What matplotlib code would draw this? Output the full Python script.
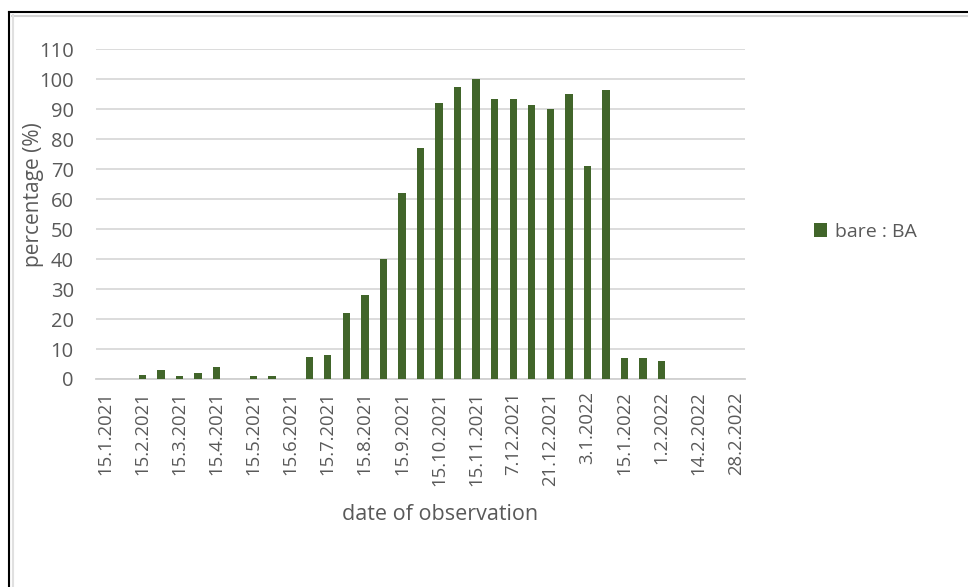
import matplotlib
matplotlib.use("Agg")
import matplotlib.pyplot as plt
from matplotlib.lines import Line2D

# observation dates (every second slot carries a label)
dates = [
    "15.1.2021", "", "15.2.2021", "", "15.3.2021", "", "15.4.2021", "",
    "15.5.2021", "", "15.6.2021", "", "15.7.2021", "", "15.8.2021", "",
    "15.9.2021", "", "15.10.2021", "", "15.11.2021", "", "7.12.2021", "",
    "21.12.2021", "", "3.1.2022", "", "15.1.2022", "", "1.2.2022", "",
    "14.2.2022", "", "28.2.2022",
]
# share of bare area per observation, % (None = no observation)
bare_pct = [
    None, None, 1.5, 3, 1, 2, 4, None,
    1, 1, None, 7.5, 8, 22, 28, 40,
    62, 77, 92, 97.5, 100, 93.5, 93.5, 91.5,
    90, 95, 71, 96.5, 7, 7, 6, None,
    None, None, None,
]

GREEN = "#41652a"
TEXT = "#595959"

plt.rcParams["font.family"] = ["Open Sans", "DejaVu Sans"]

W, H = 968, 587
fig = plt.figure(figsize=(W / 100, H / 100), dpi=100)
ax = fig.add_axes([96 / W, 1 - 379 / H, (745 - 96) / W, (379 - 49.3) / H])

xs = [i for i, v in enumerate(bare_pct) if v is not None]
vals = [v for v in bare_pct if v is not None]
ax.bar(xs, vals, width=0.4, color=GREEN, zorder=3, label="bare : BA")

ax.set_xlim(-0.5, len(dates) - 0.5)
ax.set_ylim(0, 110)
ax.set_yticks(range(0, 111, 10))
ax.tick_params(axis="y", length=0, pad=16, labelsize=14.5, labelcolor=TEXT)

label_idx = [i for i, d in enumerate(dates) if d]
ax.set_xticks(label_idx)
ax.set_xticklabels([dates[i] for i in label_idx], rotation=90)
ax.tick_params(axis="x", length=0, pad=9, labelsize=13.3, labelcolor=TEXT)

ax.grid(axis="y", color="#d9d9d9", linewidth=1.3, zorder=0)
for s in ["top", "right", "left"]:
    ax.spines[s].set_visible(False)
ax.spines["bottom"].set_color("#d0d0d0")
ax.spines["bottom"].set_linewidth(1.3)

fig.text(33 / W, 1 - 195 / H, "percentage (%)", rotation=90, ha="center",
         va="center", fontsize=15, color=TEXT)
fig.text(440 / W, 1 - 515 / H, "date of observation", ha="center",
         va="center", fontsize=15.5, color=TEXT)

fig.legend(loc="center left", bbox_to_anchor=(796 / W, 1 - 232 / H),
           frameon=False, fontsize=14, labelcolor=TEXT,
           handlelength=0.7, handleheight=0.7, handletextpad=0.4)

# sheet frame around the chart
fig.add_artist(Line2D([12 / W, 1], [1 - 15.5 / H] * 2, color="#d4d4d4", lw=1.5))
fig.add_artist(Line2D([13 / W] * 2, [0, 1 - 15 / H], color="#e0e0e0", lw=1.5))
fig.add_artist(Line2D([9 / W, 1], [1 - 12 / H] * 2, color="black", lw=1.5))
fig.add_artist(Line2D([9 / W] * 2, [0, 1 - 12 / H], color="black", lw=1.5))

fig.savefig("out.png", dpi=100)
